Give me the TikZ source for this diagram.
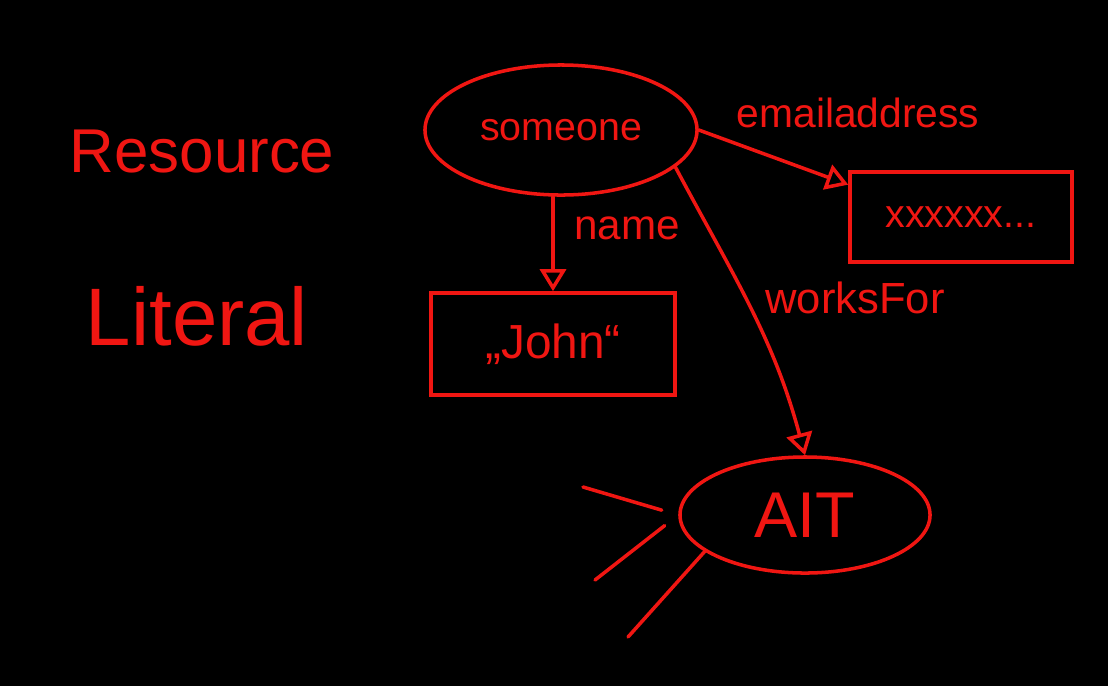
\documentclass[tikz,border=0pt]{standalone}
\usepackage{fontspec}
\setmainfont{Liberation Sans}
\usetikzlibrary{shapes.geometric,arrows.meta}
\definecolor{inkred}{RGB}{240,22,18}

\begin{document}
\begin{tikzpicture}[
  x=0.025cm, y=-0.025cm,
  ink/.style={draw=inkred, line width=2.5pt, line cap=round},
  ressource/.style={ink, ellipse, inner sep=0pt, text=inkred},
  literal/.style={ink, rectangle, inner sep=0pt, text=inkred},
  link/.style={ink, -{Triangle[open, length=5.5mm, width=6.5mm]}},
  schrift/.style={text=inkred, inner sep=0pt}
]
% background
\fill[black] (0,0) rectangle (1108,686);
\useasboundingbox (0,0) rectangle (1108,686);

% left labels
\node[schrift, font=\fontsize{44}{44}\selectfont] (resource) at (202,152) {Resource};
\node[schrift, font=\fontsize{58}{58}\selectfont] (literal) at (197,316) {Literal};

% resources and literals
\node[ressource, minimum width=6.8cm, minimum height=3.25cm,
  font=\fontsize{28}{28}\selectfont] (someone) at (561,130) {someone};
\node[literal, minimum width=5.55cm, minimum height=2.25cm,
  font=\fontsize{28}{28}\selectfont] (email) at (961,217) {xxxxxx...};
\node[literal, minimum width=6.1cm, minimum height=2.55cm,
  font=\fontsize{34}{34}\selectfont] (john) at (553,344) {„John“};
\node[ressource, minimum width=6.25cm, minimum height=2.9cm,
  font=\fontsize{46}{46}\selectfont] (AIT) at (805,515) {AIT};

% properties
\draw[link] (someone.east) -- (email.164);
\draw[link] (john.north |- someone.south) -- (john.north);
\draw[link] (someone.-18) to[out=-62, in=105] (AIT.north);

\node[schrift, font=\fontsize{29}{29}\selectfont] (lblemail) at (858,113) {emailaddress};
\node[schrift, font=\fontsize{30}{30}\selectfont] (lblname) at (627,228) {name};
\node[schrift, font=\fontsize{31}{31}\selectfont] (lblworks) at (855,298) {worksFor};

% more links into AIT
\coordinate (ast1) at (583,487);
\coordinate (ast2) at (595,580);
\coordinate (ast3) at (628,637);
\draw[ink, shorten >=0.43cm] (ast1) -- (AIT.west);
\draw[ink, shorten >=0.43cm] (ast2) -- (AIT.west);
\draw[ink] (AIT.200) -- (ast3);
\end{tikzpicture}
\end{document}
